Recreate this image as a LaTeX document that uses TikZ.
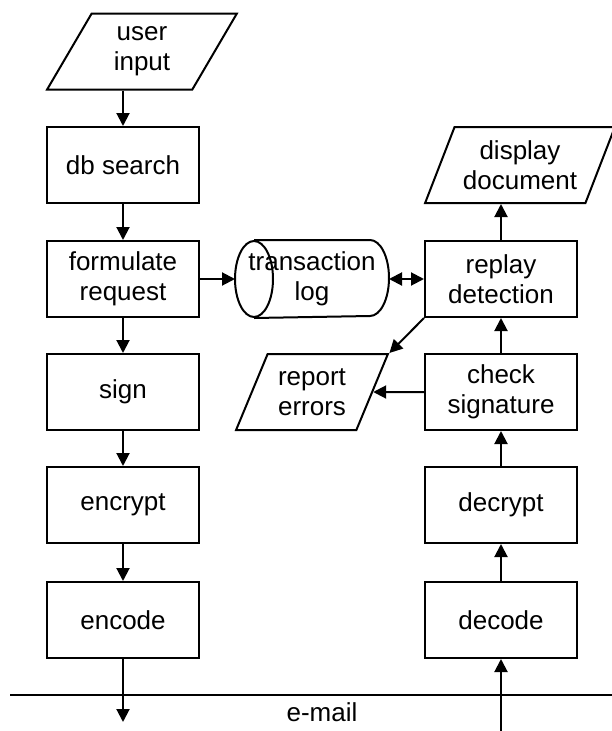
\documentclass[tikz,border=0pt]{standalone}
\usepackage{fontspec}
\setmainfont{Liberation Sans}
\usetikzlibrary{arrows.meta, positioning, shapes.geometric}

\begin{document}
\begin{tikzpicture}[x=1pt, y=-1pt, line width=2pt,
    font=\fontsize{26}{30}\selectfont,
    procbox/.style={draw, rectangle, align=center, inner sep=2pt,
                    minimum width=152pt, minimum height=76pt},
    iobox/.style={draw, trapezium, trapezium left angle=63.4,
                  trapezium right angle=116.6, trapezium stretches=true,
                  align=center, inner sep=2pt, minimum height=76pt},
    flow/.style={-{Triangle[length=13pt, width=13pt]}},
    bothflow/.style={{Triangle[length=13pt, width=13pt]}-{Triangle[length=13pt, width=13pt]}}]
  \useasboundingbox (0,0) rectangle (612,731);

  % sending side
  \node[iobox, minimum width=190pt] (input) at (142,51.5) {user\\input};
  \node[procbox] (search)    at (123,165) {db search};
  \node[procbox] (formulate) at (123,279) {formulate\\request};
  \node[procbox] (sign)      at (123,392) {sign};
  \node[procbox] (encrypt)   at (123,505) {encrypt};
  \node[procbox] (encode)    at (123,620) {encode};

  % receiving side
  \node[iobox, minimum width=190pt] (display) at (520,165) {display\\document};
  \node[procbox] (replay)  at (501,279) {replay\\detection};
  \node[procbox] (check)   at (501,392) {check\\signature};
  \node[procbox] (decrypt) at (501,505) {decrypt};
  \node[procbox] (decode)  at (501,620) {decode};

  % log (cylinder lying on its side) and errors
  \node[rectangle, align=center, inner sep=0pt,
        minimum width=152pt, minimum height=76pt] (log) at (312,279) {transaction\\log};
  \draw ([xshift=19pt]log.north west) -- ([xshift=-19pt]log.north east)
        arc[start angle=90, end angle=-90, x radius=19pt, y radius=38pt]
        -- ([xshift=19pt]log.south west);
  \draw ([xshift=19pt]log.west) ellipse [x radius=19pt, y radius=38pt];
  \node[iobox, minimum width=152pt] (report) at (312,392) {report\\errors};

  % mail line
  \coordinate (wireL) at (10,695);
  \coordinate (wireR) at (612,695);
  \coordinate (outgoing) at (123,722);
  \coordinate (incoming) at (501,731);
  \draw (wireL) -- (wireR);
  \node (mail) at (322,712) {e-mail};

  \draw[flow] (search.north |- input.south) -- (search.north);
  \draw[flow] (search) -- (formulate);
  \draw[flow] (formulate) -- (sign);
  \draw[flow] (sign) -- (encrypt);
  \draw[flow] (encrypt) -- (encode);
  \draw[flow] (encode) -- (outgoing);
  \draw[flow] (formulate.east) -- (log.west);

  \draw[flow] (incoming) -- (decode);
  \draw[flow] (decode) -- (decrypt);
  \draw[flow] (decrypt) -- (check);
  \draw[flow] (check) -- (replay);
  \draw[flow] (replay.north) -- (replay.north |- display.south);
  \draw[bothflow] (log.east) -- (replay.west);
  \draw[flow] (check.west) -- (report.east);
  \draw[flow] (replay.south west) -- (report.top right corner);
\end{tikzpicture}
\end{document}
